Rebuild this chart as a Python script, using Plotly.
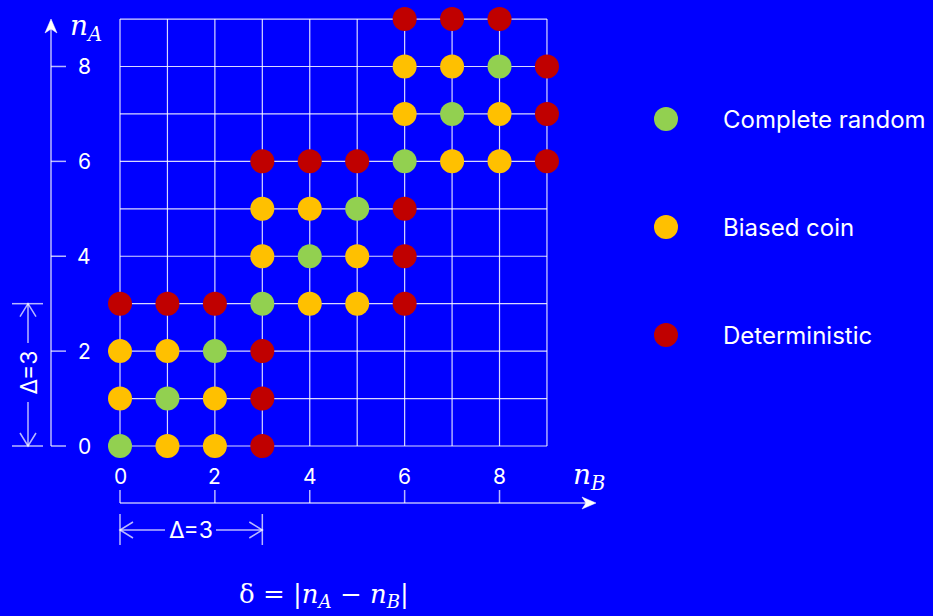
import plotly.graph_objects as go

# ---- data: allocation states (n_B, n_A) coloured by randomisation rule ----
complete_random_nB = [0, 1, 2, 3, 4, 5, 6, 7, 8]
complete_random_nA = [0, 1, 2, 3, 4, 5, 6, 7, 8]

biased_coin_nB = [1, 2, 0, 2, 0, 1, 4, 5, 3, 5, 3, 4, 7, 8, 6, 8, 6, 7]
biased_coin_nA = [0, 0, 1, 1, 2, 2, 3, 3, 4, 4, 5, 5, 6, 6, 7, 7, 8, 8]

deterministic_nB = [3, 3, 3, 0, 1, 2, 6, 6, 6, 3, 4, 5, 9, 9, 9, 6, 7, 8]
deterministic_nA = [0, 1, 2, 3, 3, 3, 3, 4, 5, 6, 6, 6, 6, 7, 8, 9, 9, 9]

series_names = ["Complete random", "Biased coin", "Deterministic"]
series_colors = ["#92D050", "#FFC000", "#C00000"]

tick_values = [0, 2, 4, 6, 8]
grid_max = 9
delta = 3

# ---- layout helpers: the plot area fills the page, equal px per unit ----
W, H = 933, 616
PX = 47.44          # pixels per unit
X0, Y0 = 120, 446   # pixel position of the origin


def dx(p):
    return (p - X0) / PX


def dy(p):
    return (Y0 - p) / PX


BG = "#0000FF"
LINE = "rgba(255,255,255,0.72)"
GRID = "rgba(255,255,255,0.85)"
TXT_FONT = "Inter"
MATH_FONT = "DejaVu Serif"

fig = go.Figure()

points = [
    (complete_random_nB, complete_random_nA),
    (biased_coin_nB, biased_coin_nA),
    (deterministic_nB, deterministic_nA),
]
for (xs, ys), name, col in zip(points, series_names, series_colors):
    fig.add_trace(go.Scatter(
        x=xs, y=ys, mode="markers", name=name, showlegend=False,
        marker=dict(size=24, color=col, line=dict(width=0)),
        hoverinfo="skip", cliponaxis=False,
    ))

# legend drawn as a column of markers with labels on the right
legend_y_px = [119, 227, 335]
for name, col, ly in zip(series_names, series_colors, legend_y_px):
    fig.add_trace(go.Scatter(
        x=[dx(666)], y=[dy(ly)], mode="markers", showlegend=False,
        marker=dict(size=24, color=col, line=dict(width=0)), hoverinfo="skip",
    ))

shapes = []
# grid
for i in range(grid_max + 1):
    shapes.append(dict(type="line", x0=i, x1=i, y0=0, y1=grid_max,
                       line=dict(color=GRID, width=1.2), layer="below"))
    shapes.append(dict(type="line", x0=0, x1=grid_max, y0=i, y1=i,
                       line=dict(color=GRID, width=1.2), layer="below"))

# vertical axis with arrow
ax_x = dx(51)
shapes.append(dict(type="line", x0=ax_x, x1=ax_x, y0=0, y1=dy(26),
                   line=dict(color=LINE, width=1.5), layer="below"))
for t in tick_values:
    shapes.append(dict(type="line", x0=ax_x, x1=dx(66), y0=t, y1=t,
                       line=dict(color=LINE, width=1.5), layer="below"))
shapes.append(dict(
    type="path",
    path=f"M{ax_x},{dy(19)} L{dx(45)},{dy(33)} L{ax_x},{dy(29)} L{dx(57)},{dy(33)} Z",
    fillcolor="white", line=dict(color="white", width=0.5)))

# horizontal axis with arrow
ax_y = dy(503)
shapes.append(dict(type="line", x0=0, x1=dx(588), y0=ax_y, y1=ax_y,
                   line=dict(color=LINE, width=1.5), layer="below"))
for t in tick_values:
    shapes.append(dict(type="line", x0=t, x1=t, y0=ax_y, y1=dy(490),
                       line=dict(color=LINE, width=1.5), layer="below"))
shapes.append(dict(
    type="path",
    path=f"M{dx(596)},{ax_y} L{dx(582)},{dy(497)} L{dx(586)},{ax_y} L{dx(582)},{dy(509)} Z",
    fillcolor="white", line=dict(color="white", width=0.5)))

# delta bracket along n_A
bx = dx(28)
arm = 13 / PX
half = 8 / PX
for yv in (0, delta):
    shapes.append(dict(type="line", x0=dx(12), x1=dx(43), y0=yv, y1=yv,
                       line=dict(color=LINE, width=1.5)))
shapes.append(dict(type="line", x0=bx, x1=bx, y0=delta, y1=dy(343),
                   line=dict(color=LINE, width=1.5)))
shapes.append(dict(type="line", x0=bx, x1=bx, y0=dy(402), y1=0,
                   line=dict(color=LINE, width=1.5)))
shapes.append(dict(type="path",
                   path=f"M{bx - half},{delta - arm} L{bx},{delta} L{bx + half},{delta - arm}",
                   line=dict(color=LINE, width=1.5)))
shapes.append(dict(type="path",
                   path=f"M{bx - half},{arm} L{bx},0 L{bx + half},{arm}",
                   line=dict(color=LINE, width=1.5)))

# delta bracket along n_B
by = dy(530)
for xv in (0, delta):
    shapes.append(dict(type="line", x0=xv, x1=xv, y0=dy(514), y1=dy(545),
                       line=dict(color=LINE, width=1.5)))
shapes.append(dict(type="line", x0=0, x1=dx(165), y0=by, y1=by,
                   line=dict(color=LINE, width=1.5)))
shapes.append(dict(type="line", x0=dx(216), x1=delta, y0=by, y1=by,
                   line=dict(color=LINE, width=1.5)))
shapes.append(dict(type="path",
                   path=f"M{arm},{by + half} L0,{by} L{arm},{by - half}",
                   line=dict(color=LINE, width=1.5)))
shapes.append(dict(type="path",
                   path=f"M{delta - arm},{by + half} L{delta},{by} L{delta - arm},{by - half}",
                   line=dict(color=LINE, width=1.5)))

annotations = []
tick_font = dict(family=TXT_FONT, size=21, color="white")
for t in tick_values:
    annotations.append(dict(x=dx(84), y=t, text=str(t), showarrow=False,
                            xanchor="center", yanchor="middle", font=tick_font))
    annotations.append(dict(x=t, y=dy(476), text=str(t), showarrow=False,
                            xanchor="center", yanchor="middle", font=tick_font))

math_font = dict(family=MATH_FONT, size=28, color="white")
annotations.append(dict(x=dx(68), y=dy(27), text="<i>n</i><sub><i>A</i></sub>",
                        showarrow=False, xanchor="left", yanchor="middle", font=math_font))
annotations.append(dict(x=dx(571), y=dy(476), text="<i>n</i><sub><i>B</i></sub>",
                        showarrow=False, xanchor="left", yanchor="middle", font=math_font))
annotations.append(dict(x=dx(324), y=dy(595),
                        text="δ = |<i>n</i><sub><i>A</i></sub> − <i>n</i><sub><i>B</i></sub>|",
                        showarrow=False, xanchor="center", yanchor="middle",
                        font=dict(family=MATH_FONT, size=26, color="white")))

delta_font = dict(family=TXT_FONT, size=23, color="white")
annotations.append(dict(x=bx, y=(dy(343) + dy(402)) / 2, text=f"Δ={delta}",
                        textangle=-90, showarrow=False, xanchor="center",
                        yanchor="middle", font=delta_font))
annotations.append(dict(x=(dx(165) + dx(216)) / 2, y=by, text=f"Δ={delta}",
                        showarrow=False, xanchor="center", yanchor="middle",
                        font=delta_font))

for name, ly in zip(series_names, legend_y_px):
    annotations.append(dict(x=dx(721), y=dy(ly), text=name, showarrow=False,
                            xanchor="left", yanchor="middle",
                            font=dict(family=TXT_FONT, size=24, color="white")))

fig.update_layout(
    width=W, height=H, autosize=False,
    margin=dict(l=0, r=0, t=0, b=0, pad=0),
    paper_bgcolor=BG, plot_bgcolor=BG,
    xaxis=dict(range=[dx(0), dx(W)], visible=False, fixedrange=True),
    yaxis=dict(range=[dy(H), dy(0)], visible=False, fixedrange=True),
    shapes=shapes, annotations=annotations,
    showlegend=False,
)

fig.write_html("out.html", config={"displayModeBar": False})
